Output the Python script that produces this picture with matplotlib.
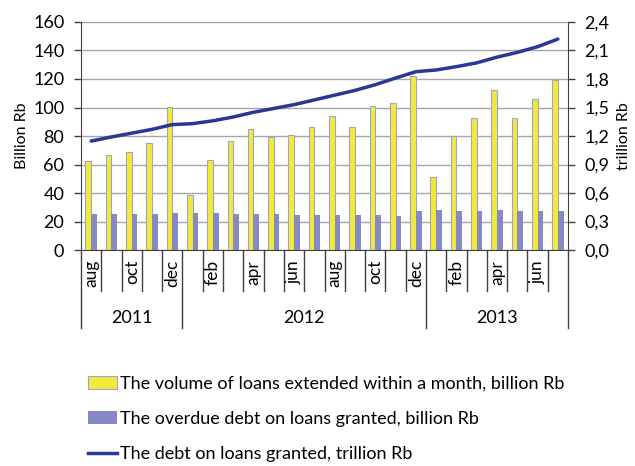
import matplotlib
matplotlib.use('Agg')
import matplotlib.pyplot as plt
import matplotlib.transforms as mtransforms
from matplotlib.patches import Patch
from matplotlib.lines import Line2D
import numpy as np

plt.rcParams['font.family'] = ['Lato', 'DejaVu Sans']
font = 13

# monthly data, aug 2011 .. jul 2013
months = ['aug', 'sep', 'oct', 'nov', 'dec',
          'jan', 'feb', 'mar', 'apr', 'may', 'jun', 'jul', 'aug', 'sep', 'oct', 'nov', 'dec',
          'jan', 'feb', 'mar', 'apr', 'may', 'jun', 'jul']
years = ['2011', '2012', '2013']
year_len = [5, 12, 7]

volume = [62.8, 66.4, 68.7, 74.8, 100.7,
          38.4, 63.5, 76.7, 84.7, 79.5, 80.5, 86.4, 94.1, 86.1, 100.9, 103.0, 122.1,
          51.5, 79.8, 92.7, 112.2, 92.9, 105.9, 119.5]
overdue = [25.2, 25.3, 25.4, 25.6, 25.9,
           26.1, 26.0, 25.2, 25.0, 25.0, 24.9, 24.9, 24.8, 24.7, 24.6, 24.2, 27.3,
           27.8, 27.7, 27.6, 27.8, 27.3, 27.1, 27.3]
debt = [1.147, 1.19, 1.23, 1.27, 1.32,
        1.33, 1.36, 1.40, 1.45, 1.49, 1.53, 1.58, 1.63, 1.68, 1.74, 1.81, 1.877,
        1.895, 1.93, 1.97, 2.03, 2.08, 2.14, 2.22]

legend_labels = ['The volume of loans extended within a month, billion Rb',
                 'The overdue debt on loans granted, billion Rb',
                 'The debt on loans granted, trillion Rb']

yellow = '#F2EA36'
lilac = '#8589C4'
navy = '#283894'

x = np.arange(len(months))

fig = plt.figure(figsize=(6.35, 4.66), dpi=100)
ax = fig.add_axes([0.1276, 0.4635, 0.7669, 0.4893])
ax2 = ax.twinx()

ax.set_axisbelow(True)
ax.yaxis.grid(True, color='#A6A6A6', linewidth=1)
ax.bar(x - 0.14, volume, width=0.28, color=yellow, edgecolor='#A0A3D0', linewidth=0.8, zorder=2)
ax.bar(x + 0.14, overdue, width=0.28, color=lilac, zorder=2)
ax.set_zorder(ax2.get_zorder() + 1)
ax.patch.set_visible(False)

# line on its own axes above the bars
ax3 = ax.twinx()
ax3.plot(x, debt, color=navy, linewidth=2.5, solid_capstyle='round')
ax3.set_ylim(0, 2.4)
ax3.axis('off')

ax.set_xlim(-0.5, len(months) - 0.5)
ax.set_ylim(0, 160)
ax.set_yticks(np.arange(0, 161, 20))
ax2.set_ylim(0, 2.4)
ax2.set_yticks(np.arange(0, 2.41, 0.3))
ax2.set_yticklabels([('%.1f' % v).replace('.', ',') for v in np.arange(0, 2.41, 0.3)])

for a in (ax, ax2):
    a.spines['top'].set_visible(False)
    a.tick_params(axis='y', direction='out', length=5, width=1, labelsize=font, color='#404040', pad=7)
ax.spines['right'].set_visible(False)
ax.spines['left'].set_color('#404040')
ax.spines['bottom'].set_color('#404040')
ax2.spines['right'].set_color('#404040')
ax2.spines['left'].set_visible(False)
ax2.spines['bottom'].set_visible(False)

ax.set_xticks([])
ax.set_ylabel('Billion Rb', fontsize=11.5, labelpad=3)
ax2.set_ylabel('trillion Rb', fontsize=11.5, labelpad=5)

# category axis: month labels, separators, years
trans = mtransforms.blended_transform_factory(ax.transData, ax.transAxes)
px = 1.0 / (0.4893 * 466)
for i, m in enumerate(months):
    if i % 2 == 0:
        ax.text(i, -10 * px, m, rotation=90, ha='center', va='top', fontsize=12.5, transform=trans)
bounds = np.cumsum([0] + year_len) - 0.5
for b in np.arange(-0.5, len(months)):
    depth = 78 if b in bounds else 41
    ax.plot([b, b], [0, -depth * px], color='#404040', linewidth=1, transform=trans, clip_on=False)
start = -0.5
for yr, n in zip(years, year_len):
    ax.text(start + n / 2.0, -68 * px, yr, ha='center', va='center', fontsize=font, transform=trans)
    start += n

handles = [Patch(facecolor=yellow, edgecolor='#A0A3D0', linewidth=0.8),
           Patch(facecolor=lilac),
           Line2D([], [], color=navy, linewidth=2.5)]
fig.legend(handles, legend_labels, loc='upper left', bbox_to_anchor=(0.138, 0.193), frameon=False,
           fontsize=13, handlelength=1.6, handleheight=0.7, handletextpad=0.2, labelspacing=1.05,
           borderpad=0, borderaxespad=0)

plt.savefig('out.png', dpi=100)
